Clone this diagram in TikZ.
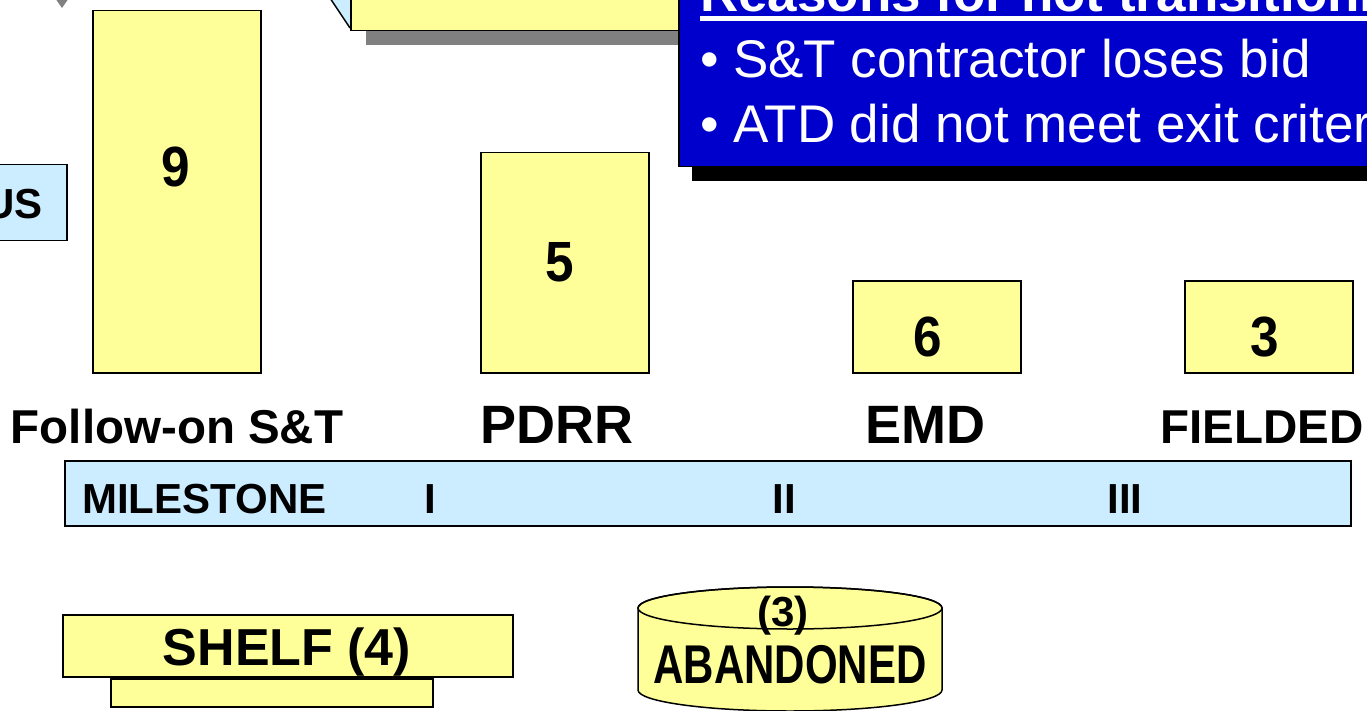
\documentclass[tikz,border=0pt]{standalone}
\usepackage{fontspec}
\setmainfont{Liberation Sans}
\definecolor{yel}{HTML}{FFFF99}
\definecolor{lblue}{HTML}{CCECFF}
\definecolor{dblue}{HTML}{0000CC}
\definecolor{shgray}{HTML}{808080}
\newcommand{\fsz}[1]{\fontsize{#1}{#1}\selectfont}
\begin{document}
\begin{tikzpicture}[x=1pt,y=-1pt,
  bar/.style={draw=black,line width=1.5pt,fill=yel,inner sep=0pt,anchor=north west},
  bluebox/.style={draw=black,line width=1.5pt,fill=lblue,inner sep=0pt,anchor=north west},
  txt/.style={inner sep=0pt,anchor=base,font=\bfseries},
  wtxt/.style={inner sep=0pt,anchor=base west,text=white}]
\useasboundingbox (0,0) rectangle (1367,711);
\clip (0,0) rectangle (1367,711);

% small gray arrow head at top left
\fill[shgray] (55,-2) -- (69,-2) -- (62,8) -- cycle;

% partially visible light blue box
\node[bluebox,minimum width=86pt,minimum height=76pt] (usbox) at (-20,164) {};
\node[inner sep=0pt,anchor=base east,font=\bfseries] (ustext) at (43,219) {\fsz{42}US};

% top callout (cut off)
\fill[lblue] (326,-8) -- (352,31) -- (352,-8) -- cycle;
\draw[line width=1.5pt] (326,-8) -- (350,28);
\fill[shgray] (366,20) rectangle (690,45.5);
\node[bar,minimum width=340pt,minimum height=40pt] (callout) at (350,-10) {};

% blue reasons box
\fill[black] (692,20) rectangle (1390,181);
\node[draw=black,line width=1.5pt,fill=dblue,inner sep=0pt,anchor=north west,
      minimum width=712pt,minimum height=176pt] (reasons) at (678,-10) {};
\node[wtxt,font=\bfseries] (head) at (700,12) {\fsz{53}Reasons for not transitioning};
\fill[white] (700,16.5) rectangle (1390,21.5);
\node[wtxt] (b1) at (700,78) {\fsz{53}\textbullet};
\node[wtxt] (r1) at (733,78) {\fsz{53}S\&T contractor loses bid};
\node[wtxt] (b2) at (700,143) {\fsz{53}\textbullet};
\node[wtxt] (r2) at (733,143) {\fsz{53}ATD did not meet exit criteria};

% bars
\node[bar,minimum width=168pt,minimum height=362pt] (bar9) at (92,10) {};
\node[txt] (n9) at (176,187) {\scalebox{0.95}[1.05]{\fsz{54}9}};
\node[bar,minimum width=168pt,minimum height=220pt] (bar5) at (480,152) {};
\node[txt] (n5) at (560,281) {\scalebox{0.95}[1.05]{\fsz{54}5}};
\node[bar,minimum width=168pt,minimum height=92pt] (bar6) at (852,280) {};
\node[txt] (n6) at (928,356) {\scalebox{0.95}[1.05]{\fsz{54}6}};
\node[bar,minimum width=168pt,minimum height=92pt] (bar3) at (1184,280) {};
\node[txt] (n3) at (1265,356) {\scalebox{0.95}[1.05]{\fsz{54}3}};

% phase labels
\node[txt] (lfol) at (177,443) {\fsz{47.5}Follow-on S\&T};
\node[txt] (lpdrr) at (557,443) {\fsz{54}PDRR};
\node[txt] (lemd) at (925,443) {\fsz{54}EMD};
\node[txt] (lfld) at (1262,443) {\fsz{47.5}FIELDED};

% milestone bar
\node[bluebox,minimum width=1286pt,minimum height=65pt] (mbar) at (64,460) {};
\node[inner sep=0pt,anchor=base west,font=\bfseries] (mlab) at (82,513) {\fsz{42}MILESTONE};
\node[txt] (m1) at (430,513) {\fsz{42}I};
\node[txt] (m2) at (784,513) {\fsz{42}II};
\node[txt] (m3) at (1125,513) {\fsz{42}III};

% shelf
\node[bar,minimum width=322pt,minimum height=28pt] (shelfbase) at (110,678) {};
\node[bar,minimum width=450pt,minimum height=62pt] (shelf) at (62,614) {};
\node[txt] (shelftext) at (287,665) {\fsz{52}SHELF (4)};

% abandoned cylinder
\draw[fill=yel,line width=1.5pt] (638,608) -- (638,690)
  arc[start angle=180,end angle=0,x radius=152,y radius=21] -- (942,608)
  arc[start angle=0,end angle=-180,x radius=152,y radius=21] -- cycle;
\draw[line width=1.5pt] (790,608) ellipse [x radius=152,y radius=21];
\node[txt] (ab3) at (783,626) {\fsz{42}(3)};
\node[txt] (abtext) at (790,683) {\scalebox{1}[1.3]{\fsz{42}ABANDONED}};
\end{tikzpicture}
\end{document}
